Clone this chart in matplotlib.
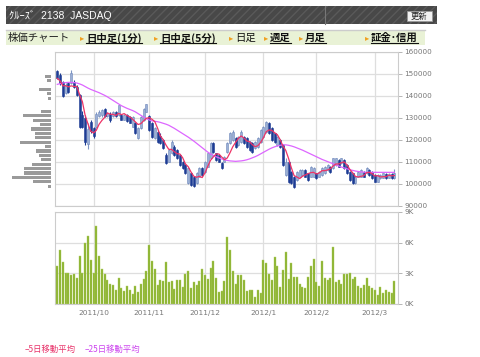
import numpy as np
import pandas as pd
import matplotlib
matplotlib.use("Agg")
from matplotlib import pyplot as plt
from matplotlib.patches import Rectangle
from matplotlib.lines import Line2D

# ---- data ----
start_day = "2011-09-12"
end_day = "2012-03-12"
holidays = ["2011-09-19", "2011-09-23", "2011-10-10", "2011-11-03", "2011-11-23",
            "2011-12-23", "2012-01-02", "2012-01-03", "2012-01-09"]

open_p = [151400, 149500, 146500, 141200, 145800, 145800, 146500, 144200, 140500, 131500,
          130000, 118000, 128300, 125500, 126000, 131000, 131500, 134300, 130800, 132000,
          131000, 132800, 131300, 131300, 129300, 131300, 130500, 126100, 127500, 120800,
          125300, 129100, 132900, 131000, 127500, 121000, 123800, 122000, 120000, 113200,
          110200, 114000, 117000, 115400, 113200, 110200, 108600, 100500, 104800, 103300,
          100300, 103300, 107100, 105600, 107900, 111700, 118500, 113900, 113200, 109400,
          110200, 114700, 118500, 120000, 120800, 117700, 119200, 121500, 120800, 119200,
          118500, 116200, 117000, 119200, 121500, 123800, 127600, 125300, 123000, 117700,
          120000, 117700, 104100, 110200, 105600, 103300, 101800, 103300, 104100, 106400,
          104800, 103300, 103300, 104800, 103300, 104100, 104800, 106400, 107900, 107100,
          108600, 110900, 109400, 110900, 108600, 105600, 104800, 100300, 103300, 103300,
          105600, 104800, 106400, 105600, 104100, 101100, 102600, 102900, 104400, 102900,
          104400, 102600]
high_p = [151800, 150300, 147000, 145800, 146500, 151800, 147200, 145000, 141000, 133000,
          131400, 127600, 129100, 126100, 132500, 133500, 134000, 134600, 132500, 132500,
          133200, 133000, 136000, 131600, 131600, 131600, 130800, 130800, 128000, 125800,
          130800, 134600, 136300, 131500, 128000, 126000, 124500, 123000, 120300, 114000,
          115800, 120000, 117500, 116000, 113600, 110600, 109000, 107600, 105500, 103800,
          105300, 107500, 107500, 110600, 114300, 119200, 119200, 114300, 113600, 109800,
          112800, 119200, 123800, 124500, 121500, 122000, 124500, 122000, 121200, 119600,
          118900, 119600, 121200, 125000, 126500, 128800, 128000, 125800, 123400, 122000,
          120400, 118100, 111700, 110600, 106000, 103700, 106000, 106800, 106800, 106800,
          105200, 108300, 107500, 105200, 106000, 107500, 108300, 109000, 108300, 112000,
          112000, 111300, 112000, 111300, 109000, 106000, 105200, 103700, 106000, 106800,
          106000, 107600, 106800, 106000, 104500, 104500, 104500, 105200, 104800, 104800,
          104800, 106800]
low_p = [147500, 145200, 139500, 140800, 141500, 145300, 143600, 139900, 125300, 125300,
         117700, 115900, 123000, 120800, 125500, 130600, 130600, 130600, 130500, 128300,
         130600, 130300, 131000, 129000, 129000, 128000, 127500, 126000, 122800, 120500,
         125000, 128800, 132500, 124000, 121000, 120500, 118800, 118000, 115900, 109000,
         109800, 113500, 112800, 111200, 108200, 106800, 104400, 99800, 99200, 98600,
         99800, 103000, 103700, 105200, 107500, 111200, 114300, 110500, 109800, 106800,
         109800, 114300, 118000, 119600, 116500, 117200, 118800, 118000, 116500, 115000,
         114300, 115800, 116500, 118800, 121000, 123400, 122600, 119600, 118800, 117200,
         116500, 108200, 103700, 100300, 99900, 98300, 101400, 103000, 103700, 103000,
         101400, 103000, 103000, 102200, 103000, 103700, 104500, 106000, 105200, 106800,
         108200, 107500, 109000, 106800, 104500, 101400, 99900, 99900, 103000, 103000,
         103000, 104500, 103700, 102200, 100700, 100700, 102200, 102600, 102200, 102600,
         102200, 102200]
close_p = [148000, 145800, 140000, 145000, 142000, 150300, 144200, 140500, 126100, 126000,
           119000, 125000, 124000, 122000, 132000, 132800, 133600, 131000, 132100, 129000,
           132800, 130800, 135800, 129300, 131300, 128500, 127800, 130500, 123100, 125300,
           130500, 134300, 136200, 124500, 121500, 125300, 119300, 118500, 116200, 109400,
           115400, 119200, 113200, 111700, 108600, 107100, 104800, 107100, 99600, 99000,
           104800, 107100, 104100, 110200, 113900, 118500, 114700, 110900, 110200, 107100,
           112400, 118500, 123000, 123800, 117000, 121500, 123800, 118500, 117000, 115400,
           114700, 119200, 120800, 124500, 126100, 128300, 123000, 120000, 119200, 121500,
           117000, 108600, 110200, 101100, 100300, 98800, 105600, 106400, 106400, 103300,
           101800, 107900, 107100, 102600, 105600, 107100, 107900, 108600, 105600, 111700,
           111700, 107900, 111700, 107100, 104800, 101800, 100300, 103300, 105600, 106400,
           103300, 107100, 104100, 102600, 101100, 104100, 104100, 104800, 102600, 104400,
           102600, 104800]
ma25 = [145300, 145600, 145900, 146100, 146200, 146200, 146100, 145900, 145500, 145000,
        144300, 143600, 143000, 142500, 142000, 141500, 140900, 140300, 139600, 138800,
        138000, 137200, 136400, 135600, 135000, 134400, 133900, 133400, 132800, 132000,
        131200, 130400, 129700, 129100, 128700, 128500, 128300, 128000, 127600, 127200,
        126700, 126000, 125300, 124500, 123700, 122900, 122100, 121300, 120400, 119500,
        118500, 117500, 116500, 115500, 114500, 113700, 113000, 112400, 111900, 111400,
        111000, 110700, 110500, 110400, 110300, 110400, 110500, 110700, 111000, 111400,
        111900, 112400, 113000, 113700, 114400, 115100, 115800, 116400, 116900, 117300,
        117600, 117800, 117800, 117600, 117300, 116900, 116400, 115900, 115400, 114800,
        114200, 113600, 113000, 112400, 111800, 111200, 110700, 110200, 109700, 109200,
        108700, 108200, 107700, 107300, 106900, 106500, 106200, 105900, 105700, 105500,
        105400, 105300, 105300, 105300, 105300, 105300, 105300, 105300, 105300, 105300,
        105300, 105300]
volume_k = [3.67, 5.32, 4.06, 3.08, 3.02, 2.82, 2.92, 2.50, 4.68, 3.08, 6.00, 6.66, 4.29,
            3.08, 7.60, 4.70, 3.47, 2.92, 2.34, 2.00, 1.85, 1.36, 2.56, 1.56, 1.30, 1.75,
            1.40, 0.94, 1.75, 1.17, 1.95, 2.43, 3.18,
            5.75, 4.22, 3.38, 1.82, 2.34, 2.27, 4.06, 2.14, 2.24, 1.49, 2.30, 2.30, 1.69,
            2.89, 3.25, 1.56, 2.14, 1.88, 2.24, 3.41,
            2.82, 2.43, 3.54, 4.19, 2.50, 1.17, 1.27, 2.24, 6.59, 5.32, 3.25, 1.92, 2.82,
            2.82, 2.37, 1.30, 1.36, 1.33, 0.68, 1.36, 1.07,
            4.35, 3.99, 2.92, 2.30, 4.55, 3.73, 1.62, 3.28, 5.13, 2.40, 4.03, 2.66, 2.66,
            1.92, 1.62, 1.56, 2.66, 3.70, 4.45,
            2.14, 1.75, 4.19, 2.53, 2.34, 2.53, 5.58, 2.18, 2.30, 1.92, 2.92, 2.92, 3.08,
            2.40, 2.66, 1.79, 1.53, 1.82, 2.53, 1.79, 1.59,
            1.40, 0.84, 1.69, 1.07, 1.40, 1.14, 1.07, 2.24]

# volume by price bands (left side bars)
vbp_price = [99000, 101000, 103000, 105000, 107000, 109000, 111000, 113000, 115000,
             117000, 119000, 121000, 123000, 125000, 127000, 129000, 131000, 133000,
             135000, 137000, 139000, 141000, 143000, 145000, 147000, 149000]
vbp_size = [3, 18.3, 38.7, 27.3, 26.7, 19, 10, 11.7, 15, 6.3, 31.3, 16.3, 15.7, 20.3,
            10.7, 17.7, 28, 10, 0, 0, 3, 4, 12.3, 0, 4, 6.3]

price_ticks = [90000, 100000, 110000, 120000, 130000, 140000, 150000, 160000]
vol_ticks = [0, 3, 6, 9]
vol_tick_labels = ["0K", "3K", "6K", "9K"]

menu_items = ["日中足(1分)", "日中足(5分)", "日足", "週足", "月足", "証金･信用"]

# ---- build the day axis ----
days = pd.bdate_range(start_day, end_day)
days = days[~days.isin(pd.to_datetime(holidays))]
x = np.arange(len(days))
month_pos = [i for i in range(1, len(days)) if days[i].month != days[i - 1].month]
month_lab = [days[i].strftime("%Y/%-m") for i in month_pos]

o = np.array(open_p)
h = np.array(high_p)
l = np.array(low_p)
c = np.array(close_p)
ma5 = pd.Series(close_p).rolling(5, min_periods=1).mean()

jp = ["Noto Sans CJK JP", "DejaVu Sans"]
grid_c = "#dedede"
W, H = 480, 357

fig = plt.figure(figsize=(4.8, 3.57), dpi=100)

# header bar
fig.add_artist(Rectangle((6 / W, 1 - 24 / H), 431 / W, 18 / H, transform=fig.transFigure,
                         facecolor="#484848", edgecolor="#5a5a5a", hatch="////", lw=0))
fig.add_artist(Line2D([325 / W, 325 / W], [1 - 24 / H, 1 - 6 / H], transform=fig.transFigure,
                      color="#777777", lw=0.8))
fig.add_artist(Rectangle((407 / W, 1 - 21 / H), 25 / W, 10 / H, transform=fig.transFigure,
                         facecolor="#f2f2f2", edgecolor="#999999", lw=0.6))
fig.text(419.5 / W, 1 - 16 / H, "更新", family=jp, fontsize=6, color="#222222",
         ha="center", va="center")
fig.text(9 / W, 1 - 15.5 / H, "ｸﾙｰｽﾞ  2138  JASDAQ", family=["Liberation Sans", "Noto Sans CJK JP"],
         fontsize=7.5, color="white", va="center")

# menu bar
fig.add_artist(Rectangle((6 / W, 1 - 45 / H), 419 / W, 15 / H, transform=fig.transFigure,
                         facecolor="#e9f2d6", lw=0))
fig.add_artist(Line2D([6 / W, 425 / W], [1 - 30 / H] * 2, transform=fig.transFigure,
                      color="#cccccc", lw=1))
fig.text(8 / W, 1 - 38 / H, "株価チャート", family=jp, fontsize=7.5, color="#222222", va="center")
arrow_x = [80, 154, 229, 264, 299, 365]
link = [True, True, False, True, True, True]
menu_texts = []
for ax_, item, is_link in zip(arrow_x, menu_items, link):
    fig.text(ax_ / W, 1 - 38 / H, "▸", family="DejaVu Sans", fontsize=6, color="#f0a020",
             va="center")
    t = fig.text((ax_ + 6) / W, 1 - 38 / H, item, family=jp, fontsize=7.5, color="#111111",
                 va="center", fontweight="bold" if is_link else "normal")
    if is_link:
        menu_texts.append(t)

# price panel
ax = fig.add_axes([55 / W, 1 - 206 / H, 343 / W, 154 / H])
xlim = (-0.83, len(days) - 1 + 1.3)
up = c >= o
dn = ~up
ax.vlines(x[up], l[up], h[up], color="#7f96c4", lw=0.8, zorder=3)
ax.vlines(x[dn], l[dn], h[dn], color="#1d3c94", lw=0.8, zorder=3)
ax.bar(x[up], np.maximum(c[up] - o[up], 150), bottom=o[up], width=0.72,
       color="#9bb0d6", edgecolor="#6f87bb", lw=0.4, zorder=4)
ax.bar(x[dn], np.maximum(o[dn] - c[dn], 150), bottom=c[dn], width=0.72,
       color="#1d3c94", edgecolor="#1d3c94", lw=0.4, zorder=4)
ax.plot(x, ma25, color="#dd66ff", lw=0.9, zorder=5)
ax.plot(x, ma5, color="#ee3366", lw=0.9, zorder=6)
ax.set_xlim(*xlim)
ax.set_ylim(90000, 160000)
ax.set_yticks(price_ticks)
ax.set_yticklabels([str(v) for v in price_ticks])
ax.yaxis.tick_right()
ax.set_xticks(month_pos)
ax.set_xticklabels([])
ax.tick_params(axis="x", length=0)
ax.tick_params(axis="y", length=3, width=0.6, color="#aaaaaa", labelsize=5.2,
               labelcolor="#777777", pad=1.5)
ax.grid(True, color=grid_c, lw=0.9)
ax.set_axisbelow(True)
for s in ax.spines.values():
    s.set_color("#cccccc")

# volume by price
axh = fig.add_axes([12 / W, 1 - 206 / H, 39 / W, 154 / H])
axh.barh(vbp_price, -np.array(vbp_size), height=1400, color="#9a9a9a")
axh.set_xlim(-39, 0)
axh.set_ylim(90000, 160000)
axh.axis("off")

# volume panel
axv = fig.add_axes([55 / W, 1 - 304 / H, 343 / W, 92 / H])
axv.bar(x, volume_k, width=0.72, color="#88b02c", edgecolor="#b5d268", lw=0.3, zorder=3)
axv.set_xlim(*xlim)
axv.set_ylim(0, 9)
axv.set_yticks(vol_ticks)
axv.set_yticklabels(vol_tick_labels)
axv.yaxis.tick_right()
axv.set_xticks(month_pos)
axv.set_xticklabels(month_lab)
axv.tick_params(axis="x", length=0, labelsize=5.3, labelcolor="#777777", pad=4)
axv.tick_params(axis="y", length=3, width=0.6, color="#aaaaaa", labelsize=5.2,
                labelcolor="#777777", pad=1.5)
axv.grid(True, color=grid_c, lw=0.9)
axv.set_axisbelow(True)
for s in axv.spines.values():
    s.set_color("#cccccc")

# legend text at the bottom
fig.text(25 / W, 1 - 349 / H, "–5日移動平均", family=jp, fontsize=6, color="#e8336a", va="center")
fig.text(85 / W, 1 - 349 / H, "–25日移動平均", family=jp, fontsize=6, color="#cc44ee", va="center")

# underline the menu links
fig.canvas.draw()
r = fig.canvas.get_renderer()
for t in menu_texts:
    bb = t.get_window_extent(r)
    fig.add_artist(Line2D([bb.x0 / W, bb.x1 / W], [(bb.y0 + 0.5) / H] * 2,
                          transform=fig.transFigure, color="#111111", lw=0.8))

fig.savefig("out.png", dpi=100)
